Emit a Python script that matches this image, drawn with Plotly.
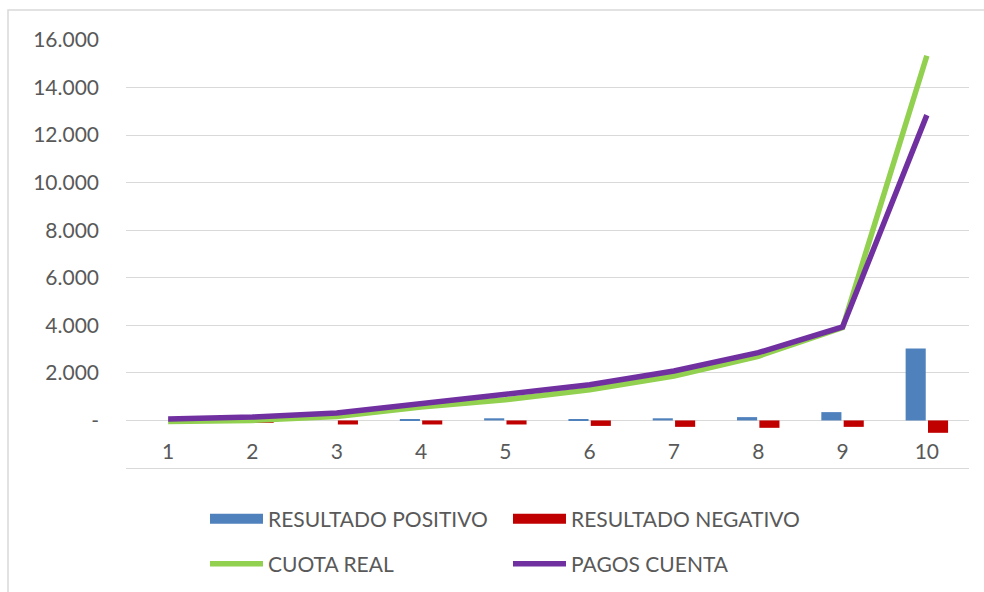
import plotly.graph_objects as go

# ---- data ----
periods = [1, 2, 3, 4, 5, 6, 7, 8, 9, 10]
period_labels = ["1", "2", "3", "4", "5", "6", "7", "8", "9", "10"]
resultado_positivo = [0, 0, 0, 30, 90, 40, 90, 140, 350, 3030]
resultado_negativo = [0, -100, -170, -170, -170, -230, -270, -310, -270, -520]
cuota_real = [-40, 0, 170, 560, 870, 1290, 1870, 2700, 3900, 15340]
pagos_cuenta = [65, 140, 310, 700, 1080, 1500, 2080, 2850, 3930, 12840]
y_tick_values = [-2000, 0, 2000, 4000, 6000, 8000, 10000, 12000, 14000, 16000]
y_tick_labels = ["-2.000", "-", "2.000", "4.000", "6.000", "8.000", "10.000", "12.000", "14.000", "16.000"]

BLUE = "#4F81BD"
RED = "#C00000"
GREEN = "#92D050"
PURPLE = "#7030A0"
TXT = "#595959"
GRID = "#D9D9D9"
FONT = "Lato"
FS = 21

fig = go.Figure()

fig.add_trace(go.Bar(x=periods, y=resultado_positivo, name="RESULTADO POSITIVO",
                     marker=dict(color=BLUE, line=dict(width=0)),
                     showlegend=False, legendgroup="pos"))
fig.add_trace(go.Bar(x=periods, y=resultado_negativo, name="RESULTADO NEGATIVO",
                     marker=dict(color=RED, line=dict(width=0)),
                     showlegend=False, legendgroup="neg"))
# legend swatches for the bars (wide rectangles as in the original)
fig.add_trace(go.Scatter(x=[None], y=[None], mode="lines", name="RESULTADO POSITIVO",
                         line=dict(color=BLUE, width=13), legendgroup="pos", legend="legend"))
fig.add_trace(go.Scatter(x=[None], y=[None], mode="lines", name="RESULTADO NEGATIVO",
                         line=dict(color=RED, width=13), legendgroup="neg", legend="legend"))

fig.add_trace(go.Scatter(x=periods, y=cuota_real, mode="lines", name="CUOTA REAL",
                         line=dict(color=GREEN, width=5.5), legend="legend2"))
fig.add_trace(go.Scatter(x=periods, y=pagos_cuenta, mode="lines", name="PAGOS CUENTA",
                         line=dict(color=PURPLE, width=5.5), legend="legend2"))

legend_common = dict(
    orientation="h", xanchor="left", yanchor="middle",
    xref="paper", yref="container",
    font=dict(family=FONT, size=FS, color=TXT),
    entrywidth=235, entrywidthmode="pixels", itemwidth=53,
    bgcolor="rgba(0,0,0,0)", borderwidth=0, traceorder="normal",
)

fig.update_layout(
    width=984, height=592,
    margin=dict(l=126, r=15, t=40, b=124, autoexpand=False),
    paper_bgcolor="white", plot_bgcolor="white",
    font=dict(family=FONT, size=FS, color=TXT),
    barmode="group", bargap=0.47, bargroupgap=0.1,
    legend=dict(x=0.0937, y=1 - 519 / 592, **legend_common),
    legend2=dict(x=0.0937, y=1 - 564 / 592, **legend_common),
    xaxis=dict(range=[0.5, 10.5], tickvals=periods, ticktext=period_labels,
               showgrid=False, zeroline=False, showline=True, linecolor=GRID, linewidth=1,
               ticks="", ticklabelposition="inside", side="bottom", ticklabelstandoff=6,
               tickfont=dict(family=FONT, size=FS, color=TXT)),
    yaxis=dict(range=[-2000, 16000], tickvals=y_tick_values, ticktext=y_tick_labels,
               showgrid=True, gridcolor=GRID, gridwidth=1, zeroline=False, showline=False,
               ticks="", ticklabelstandoff=26,
               tickfont=dict(family=FONT, size=FS, color=TXT)),
    shapes=[dict(type="rect", xref="paper", yref="paper",
                 x0=(8 - 126) / 843, x1=(995 - 126) / 843,
                 y0=(468 - 600) / 428, y1=(468 - 10) / 428,
                 line=dict(color=GRID, width=1.5), fillcolor="rgba(0,0,0,0)", layer="below")],
)

fig.write_html(
    "out.html",
    config={"displayModeBar": False},
    post_script="document.body.style.margin='0';document.body.style.overflow='hidden';",
)
